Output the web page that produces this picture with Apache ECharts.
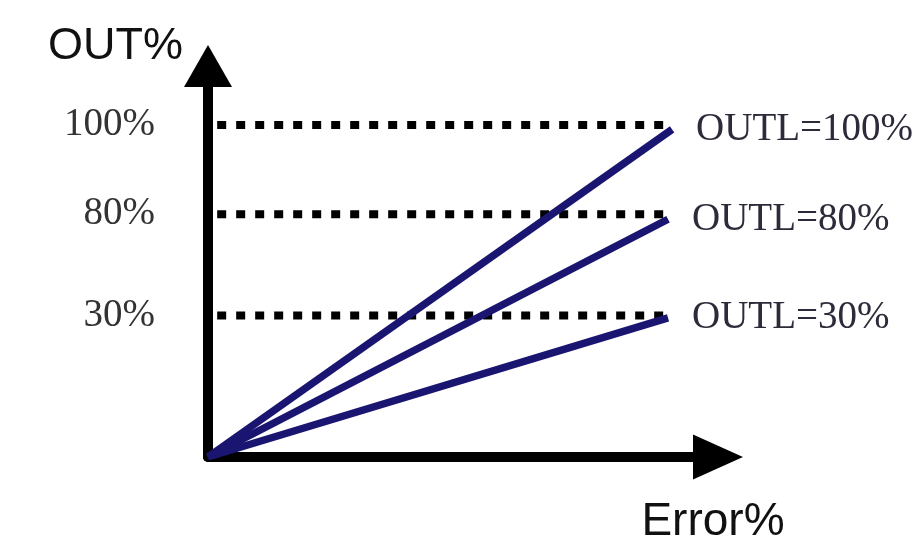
<!DOCTYPE html>
<html lang="en">
<head>
    <meta charset="UTF-8">
    <title>OUT% vs Error%</title>
    <script src="https://cdn.jsdelivr.net/npm/echarts@6/dist/echarts.min.js"></script>
    <style>
        html, body { margin: 0; padding: 0; background: #fff; }
        #chart { width: 918px; height: 548px; }
    </style>
</head>
<body>
    <div id="chart"></div>
    <script>
        // levels as labelled, and their heights on the drawing (0-100 of the axis length)
        const levelNames = ['100%', '80%', '30%'];
        const levelHeights = [84.9, 62.1, 36.2];
        // where each OUTL line ends (x, y on the same 0-100 scale)
        const lineEndX = [91, 90.2, 90.2];
        const lineEndY = [83.8, 60.8, 35.6];
        const dotStartX = 1.8;
        const dotEndX = 91;

        const navy = '#1a1570';
        const chart = echarts.init(document.getElementById('chart'));

        const series = [];
        // dotted guide lines
        levelHeights.forEach((h, i) => {
            series.push({
                type: 'line',
                data: [[dotStartX, h], [dotEndX, h]],
                symbol: 'none',
                silent: true,
                lineStyle: { color: '#000', width: 8, type: [9, 10], cap: 'butt' },
                z: 1
            });
        });
        // OUTL lines
        levelNames.forEach((name, i) => {
            series.push({
                type: 'line',
                name: 'OUTL=' + name,
                data: [[0, 0], [lineEndX[i], lineEndY[i]]],
                symbol: 'none',
                lineStyle: { color: navy, width: 7.5 },
                endLabel: {
                    show: true,
                    formatter: 'OUTL=' + name,
                    distance: 24,
                    color: '#2b2b3a',
                    fontFamily: 'Liberation Serif',
                    fontSize: 39
                },
                z: 3
            });
        });

        chart.setOption({
            animation: false,
            grid: { left: 208, right: 200, top: 66, bottom: 91 },
            xAxis: {
                type: 'value',
                min: 0,
                max: 100,
                name: 'Error%',
                nameLocation: 'end',
                nameGap: 0,
                nameTextStyle: {
                    fontFamily: 'Liberation Sans',
                    fontSize: 46,
                    color: '#111',
                    align: 'center',
                    verticalAlign: 'top',
                    padding: [42, 10, 0, 0]
                },
                axisLine: {
                    lineStyle: { color: '#000', width: 10 },
                    symbol: ['none', 'triangle'],
                    symbolSize: [45, 50]
                },
                axisTick: { show: false },
                axisLabel: { show: false },
                splitLine: { show: false }
            },
            yAxis: {
                type: 'value',
                min: 0,
                max: 100,
                name: 'OUT%',
                nameLocation: 'end',
                nameGap: 19,
                nameTextStyle: {
                    fontFamily: 'Liberation Sans',
                    fontSize: 45,
                    color: '#111',
                    align: 'right',
                    verticalAlign: 'middle',
                    padding: [0, 25, 0, 0]
                },
                axisLine: {
                    lineStyle: { color: '#000', width: 10 },
                    symbol: ['none', 'triangle'],
                    symbolSize: [48, 42]
                },
                axisTick: { show: false },
                axisLabel: {
                    customValues: levelHeights,
                    formatter: v => levelNames[levelHeights.indexOf(v)] || '',
                    margin: 53,
                    fontFamily: 'Liberation Serif',
                    fontSize: 39,
                    color: '#333'
                },
                splitLine: { show: false }
            },
            series: series
        });
    </script>
</body>
</html>
